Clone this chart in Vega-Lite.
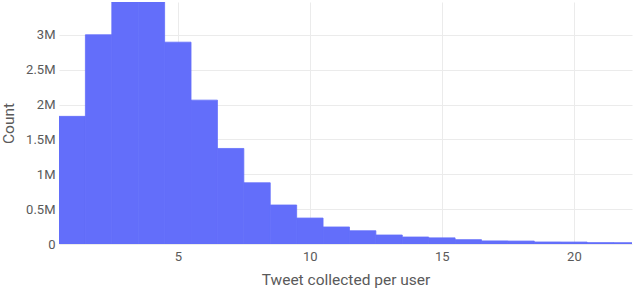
{
  "$schema": "https://vega.github.io/schema/vega-lite/v6.json",
  "width": 573,
  "height": 242,
  "autosize": {"type": "none"},
  "padding": {"left": 59, "top": 2, "right": 8, "bottom": 45},
  "background": "white",
  "config": {
    "view": {"stroke": null},
    "font": "Roboto",
    "axis": {
      "labelColor": "#5a5a5a",
      "titleColor": "#5a5a5a",
      "labelFontSize": 13,
      "titleFontSize": 15.5,
      "titleFontWeight": "normal",
      "gridColor": "#ebebeb",
      "gridWidth": 1,
      "domain": false,
      "ticks": false
    }
  },
  "data": {
    "values": [
      {"start": 0.5, "end": 1.5, "count": 1830000},
      {"start": 1.5, "end": 2.5, "count": 3000000},
      {"start": 2.5, "end": 3.5, "count": 3470000},
      {"start": 3.5, "end": 4.5, "count": 3470000},
      {"start": 4.5, "end": 5.5, "count": 2894000},
      {"start": 5.5, "end": 6.5, "count": 2063000},
      {"start": 6.5, "end": 7.5, "count": 1370000},
      {"start": 7.5, "end": 8.5, "count": 878000},
      {"start": 8.5, "end": 9.5, "count": 559000},
      {"start": 9.5, "end": 10.5, "count": 372000},
      {"start": 10.5, "end": 11.5, "count": 244000},
      {"start": 11.5, "end": 12.5, "count": 190000},
      {"start": 12.5, "end": 13.5, "count": 129000},
      {"start": 13.5, "end": 14.5, "count": 100000},
      {"start": 14.5, "end": 15.5, "count": 88000},
      {"start": 15.5, "end": 16.5, "count": 62000},
      {"start": 16.5, "end": 17.5, "count": 44000},
      {"start": 17.5, "end": 18.5, "count": 42000},
      {"start": 18.5, "end": 19.5, "count": 29000},
      {"start": 19.5, "end": 20.5, "count": 28000},
      {"start": 20.5, "end": 21.5, "count": 20000},
      {"start": 21.5, "end": 22.5, "count": 19000}
    ]
  },
  "mark": {"type": "bar", "color": "#636efa", "clip": true, "stroke": "#636efa", "strokeWidth": 0.8},
  "encoding": {
    "x": {
      "field": "start",
      "type": "quantitative",
      "scale": {"domain": [0.5, 22.2], "nice": false, "zero": false},
      "axis": {
        "values": [5, 10, 15, 20],
        "title": "Tweet collected per user",
        "labelPadding": 6,
        "titlePadding": 9
      }
    },
    "x2": {"field": "end"},
    "y": {
      "field": "count",
      "type": "quantitative",
      "scale": {"domain": [0, 3470000], "nice": false},
      "axis": {
        "values": [0, 500000, 1000000, 1500000, 2000000, 2500000, 3000000],
        "labelExpr": "datum.value == 0 ? '0' : format(datum.value / 1000000, '~g') + 'M'",
        "labelPadding": 4,
        "title": "Count",
        "titleX": -51,
        "titleBaseline": "middle"
      }
    },
    "y2": {"datum": 0}
  }
}
